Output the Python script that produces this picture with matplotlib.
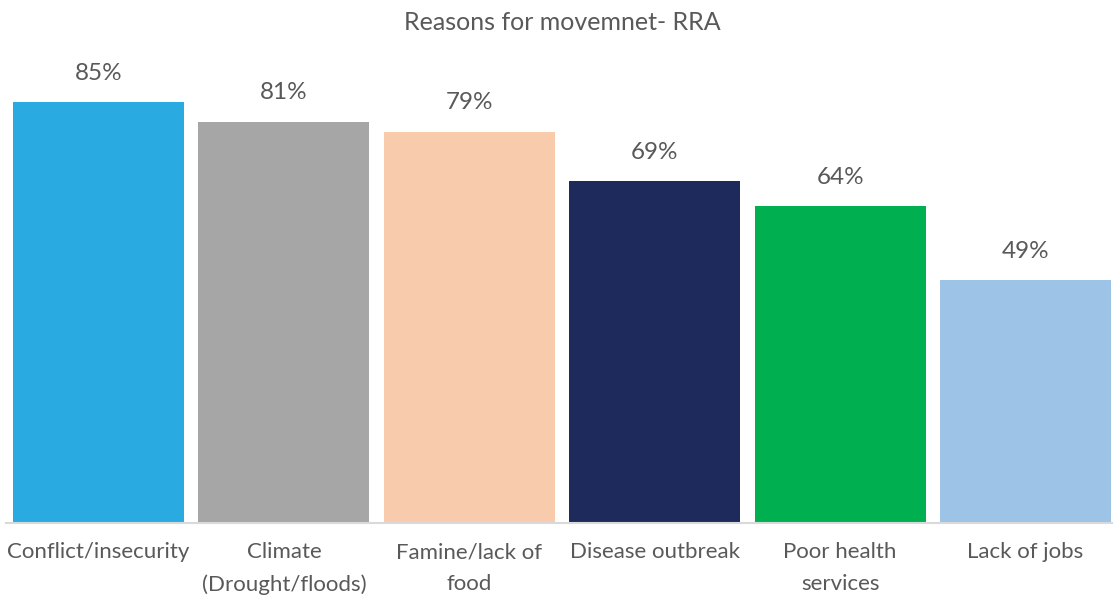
import matplotlib.pyplot as plt

plt.rcParams['font.family'] = ['Lato', 'DejaVu Sans']

categories = ["Conflict/insecurity", "Climate\n(Drought/floods)", "Famine/lack of\nfood",
              "Disease outbreak", "Poor health\nservices", "Lack of jobs"]
values = [85, 81, 79, 69, 64, 49]
colors = ["#29ABE2", "#A6A6A6", "#F8CBAD", "#1F2A5C", "#00B050", "#9DC3E6"]

W, H = 1113, 596
pitch = 185.4
fig = plt.figure(figsize=(W / 100, H / 100), dpi=100)
# axes in pixel units: baseline at y=523, one category per pitch
ax = fig.add_axes([(98.5 - pitch / 2) / W, 1 - 523 / H, 6 * pitch / W, 473 / H])

x = range(len(values))
bars = ax.bar(x, values, width=171 / pitch, color=colors)
ax.set_xlim(-0.5, len(values) - 0.5)
ax.set_ylim(0, 473 / 4.95)

for b, v in zip(bars, values):
    ax.annotate(f"{v}%", (b.get_x() + b.get_width() / 2, v), xytext=(0, 21),
                textcoords="offset points", ha="center", va="center",
                fontsize=17.5, color="#595959")

ax.set_xticks(list(x))
ax.set_xticklabels(categories, fontsize=16, color="#595959", linespacing=1.7)
ax.tick_params(axis="x", length=0, pad=14)
ax.set_yticks([])
for s in ["top", "right", "left"]:
    ax.spines[s].set_visible(False)
ax.spines["bottom"].set_color("#D9D9D9")
ax.spines["bottom"].set_linewidth(1.5)

fig.text(562 / W, 1 - 22 / H, "Reasons for movemnet- RRA", ha="center", va="center",
         fontsize=18, color="#595959")

fig.savefig("out.png", dpi=100)
